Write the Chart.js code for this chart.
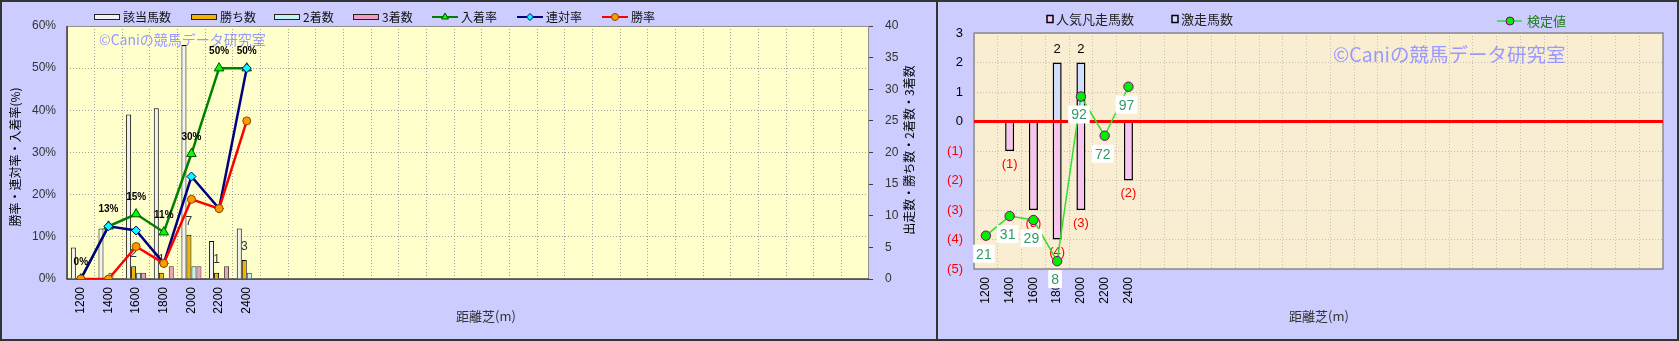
<!DOCTYPE html>
<html><head><meta charset="utf-8">
<script src="https://cdn.jsdelivr.net/npm/chart.js@4"></script>
<style>
html,body{margin:0;padding:0;background:#CCCCFF;}
#wrap{position:relative;width:1679px;height:341px;background:#CCCCFF;overflow:hidden;}
#c1{position:absolute;left:0;top:0;}
#c2{position:absolute;left:938px;top:0;}
.frame{position:absolute;box-sizing:border-box;border:2px solid #333;pointer-events:none;}
</style></head>
<body>
<div id="wrap">
<canvas id="c1" width="937" height="341"></canvas>
<canvas id="c2" width="741" height="341"></canvas>
<div class="frame" style="left:0;top:0;width:938px;height:341px;"></div>
<div class="frame" style="left:936px;top:0;width:743px;height:341px;"></div>
</div>
<script>
// ---------------- data ----------------
const distances = ['1200','1400','1600','1800','2000','2200','2400'];
const SLOTS = 29;
const xLabels = distances.concat(Array(SLOTS - distances.length).fill(''));

const runners      = [5, 8, 26, 27, 37, 6, 8];
const wins         = [0, 0, 2, 1, 7, 1, 3];
const seconds      = [0, 1, 1, 0, 2, 0, 1];
const thirds       = [0, 0, 1, 2, 2, 2, 0];
const placeRate    = [0, 12.5, 15.4, 11.1, 29.7, 50.0, 50.0];
const quinellaRate = [0, 12.5, 11.5, 3.7, 24.3, 16.7, 50.0];
const winRate      = [0, 0, 7.7, 3.7, 18.9, 16.7, 37.5];
const rateTicks    = [0, 10, 20, 30, 40, 50, 60];
const countTicks   = [0, 5, 10, 15, 20, 25, 30, 35, 40];

const popularFlops = [0, -1, -3, -4, -3, 0, -2];
const upsets       = [0, 0, 0, 2, 2, 0, 0];
const testValues   = [21, 31, 29, 8, 92, 72, 97];
const diffTicks    = [-5, -4, -3, -2, -1, 0, 1, 2, 3];
const testRange    = [4, 124.4];

const FONT = '"Liberation Sans","Noto Sans CJK JP",sans-serif';
const JFONT = '"Noto Sans CJK JP","Liberation Sans",sans-serif';
const WATERMARK = '©Caniの競馬データ研究室';

function marker(ctx, style, x, y, r, fill, stroke){
  ctx.save();
  ctx.fillStyle = fill; ctx.strokeStyle = stroke; ctx.lineWidth = 1;
  Chart.helpers.drawPoint(ctx, {pointStyle: style, radius: r, rotation: 0, borderWidth: 1}, x, y);
  ctx.restore();
}

// ---------------- left chart ----------------
const leftPlugin = {
  id: 'leftDeco',
  beforeDraw(chart){
    const {ctx, chartArea: a} = chart;
    ctx.save();
    ctx.fillStyle = '#CCCCFF'; ctx.fillRect(0, 0, chart.width, chart.height);
    ctx.fillStyle = '#FFFFCC'; ctx.fillRect(a.left, a.top, a.right - a.left, a.bottom - a.top);
    ctx.restore();
  },
  beforeDatasetsDraw(chart){
    const {ctx, chartArea: a} = chart;
    ctx.save();
    ctx.strokeStyle = '#909090'; ctx.lineWidth = 1;
    ctx.strokeRect(a.left + 0.5, a.top + 0.5, a.right - a.left - 1, a.bottom - a.top);
    ctx.strokeStyle = '#404040'; ctx.lineWidth = 1.5;
    ctx.beginPath(); ctx.moveTo(a.left, a.top); ctx.lineTo(a.left, a.bottom); ctx.lineTo(a.right, a.bottom); ctx.stroke();
    ctx.fillStyle = '#9999FF'; ctx.font = '14px ' + JFONT; ctx.textBaseline = 'middle'; ctx.textAlign = 'left';
    ctx.fillText(WATERMARK, 99, 40);
    ctx.restore();
  },
  beforeDatasetDraw(chart, args){
    if (args.index !== 4) return;
    const ctx = chart.ctx;
    const meta = chart.getDatasetMeta(1);
    ctx.save();
    ctx.fillStyle = '#333'; ctx.font = '12px ' + FONT; ctx.textAlign = 'center'; ctx.textBaseline = 'middle';
    wins.forEach((v, i) => { if (v > 0) { const el = meta.data[i]; ctx.fillText(String(v), el.x, el.y - 13); } });
    ctx.restore();
  },
  afterDatasetsDraw(chart){
    const ctx = chart.ctx;
    const meta = chart.getDatasetMeta(4);
    ctx.save();
    ctx.fillStyle = '#000'; ctx.font = 'bold 10px ' + FONT; ctx.textAlign = 'center'; ctx.textBaseline = 'middle';
    placeRate.forEach((v, i) => { const p = meta.data[i]; ctx.fillText(Math.round(v) + '%', p.x, p.y - 17); });
    ctx.restore();
  },
  afterDraw(chart){
    const ctx = chart.ctx;
    const xs = [94, 191, 274, 353, 432, 517, 602];
    const ly = 17;
    ctx.save();
    chart.data.datasets.forEach((ds, i) => {
      const x = xs[i];
      if (ds.type === 'line') {
        ctx.strokeStyle = ds.borderColor; ctx.lineWidth = 2;
        ctx.beginPath(); ctx.moveTo(x, ly); ctx.lineTo(x + 26, ly); ctx.stroke();
        marker(ctx, ds.pointStyle, x + 13, ly, ds.pointStyle === 'triangle' ? 4 : 3.5, ds.pointBackgroundColor, ds.pointBorderColor);
      } else {
        ctx.fillStyle = ds.backgroundColor; ctx.fillRect(x, ly - 3, 26, 6);
        ctx.strokeStyle = '#222'; ctx.lineWidth = 1; ctx.strokeRect(x + 0.5, ly - 2.5, 25, 5);
      }
      ctx.fillStyle = '#111'; ctx.font = '12px ' + JFONT; ctx.textAlign = 'left'; ctx.textBaseline = 'middle';
      ctx.fillText(ds.label, x + 29, ly);
    });
    // axis titles
    ctx.fillStyle = '#000';
    ctx.font = '12px ' + JFONT; ctx.textAlign = 'center'; ctx.textBaseline = 'middle';
    ctx.save(); ctx.translate(15, 157); ctx.rotate(-Math.PI / 2); ctx.fillText('勝率・連対率・入着率(%)', 0, 0); ctx.restore();
    ctx.font = '12px ' + JFONT;
    ctx.save(); ctx.translate(909, 150); ctx.rotate(-Math.PI / 2); ctx.fillText('出走数・勝ち数・2着数・3着数', 0, 0); ctx.restore();
    ctx.fillStyle = '#333'; ctx.font = '13px ' + JFONT;
    ctx.fillText('距離芝(m)', 486, 316);
    ctx.restore();
  }
};

new Chart(document.getElementById('c1'), {
  type: 'bar',
  data: {
    labels: xLabels,
    datasets: [
      {label: '該当馬数', data: runners, yAxisID: 'y2', backgroundColor: '#F2F2F2', borderColor: '#000', borderWidth: 1, order: 10},
      {label: '勝ち数', data: wins, yAxisID: 'y2', backgroundColor: '#F0B400', borderColor: '#000', borderWidth: 1, order: 10},
      {label: '2着数', data: seconds, yAxisID: 'y2', backgroundColor: '#C4F2F2', borderColor: '#333', borderWidth: 1, order: 10},
      {label: '3着数', data: thirds, yAxisID: 'y2', backgroundColor: '#F29CC4', borderColor: '#333', borderWidth: 1, order: 10},
      {type: 'line', label: '入着率', data: placeRate, yAxisID: 'y', borderColor: '#008000', borderWidth: 2.5, tension: 0,
       pointStyle: 'triangle', pointRadius: 5.5, pointBackgroundColor: '#00FF00', pointBorderColor: '#005000', pointBorderWidth: 1, order: 3},
      {type: 'line', label: '連対率', data: quinellaRate, yAxisID: 'y', borderColor: '#000080', borderWidth: 2.5, tension: 0,
       pointStyle: 'rectRot', pointRadius: 4.5, pointBackgroundColor: '#00FFFF', pointBorderColor: '#000080', pointBorderWidth: 1, order: 2},
      {type: 'line', label: '勝率', data: winRate, yAxisID: 'y', borderColor: '#FF0000', borderWidth: 2.5, tension: 0,
       pointStyle: 'circle', pointRadius: 4, pointBackgroundColor: '#FF9900', pointBorderColor: '#8A4A00', pointBorderWidth: 1, order: 1}
    ]
  },
  options: {
    responsive: false, animation: false,
    layout: {padding: {top: 26, left: 0, right: 0, bottom: 0}},
    datasets: {bar: {categoryPercentage: 0.723, barPercentage: 1.0}},
    plugins: {legend: {display: false}, tooltip: {enabled: false}},
    scales: {
      x: {
        grid: {offset: true, color: '#A0A0A0', drawTicks: false},
        border: {display: false, dash: [1, 2]},
        ticks: {autoSkip: false, maxRotation: 90, minRotation: 90, padding: 8, color: '#000', font: {size: 12, family: FONT}},
        afterFit(s){ s.height = 62; }
      },
      y: {
        position: 'left', min: rateTicks[0], max: rateTicks[rateTicks.length - 1],
        ticks: {stepSize: rateTicks[1] - rateTicks[0], callback: v => v + '%', padding: 11, color: '#333', font: {size: 12, family: FONT}},
        grid: {color: '#A0A0A0', drawTicks: false},
        border: {display: false, dash: [1, 2]},
        afterFit(s){ s.width = 67; }
      },
      y2: {
        position: 'right', min: countTicks[0], max: countTicks[countTicks.length - 1],
        ticks: {stepSize: countTicks[1] - countTicks[0], padding: 12, color: '#333', font: {size: 12, family: FONT}},
        grid: {drawOnChartArea: false, drawTicks: true, tickLength: 4, color: '#404040'},
        border: {display: false},
        afterFit(s){ s.width = 68; }
      }
    }
  },
  plugins: [leftPlugin]
});

// ---------------- right chart ----------------
const rightPlugin = {
  id: 'rightDeco',
  beforeDraw(chart){
    const {ctx, chartArea: a} = chart;
    ctx.save();
    ctx.fillStyle = '#CCCCFF'; ctx.fillRect(0, 0, chart.width, chart.height);
    ctx.fillStyle = '#FAEED2'; ctx.fillRect(a.left, a.top, a.right - a.left, a.bottom - a.top);
    ctx.restore();
  },
  beforeDatasetsDraw(chart){
    const {ctx, chartArea: a} = chart;
    ctx.save();
    ctx.strokeStyle = '#8A8A8A'; ctx.lineWidth = 1.5;
    ctx.strokeRect(a.left, a.top, a.right - a.left, a.bottom - a.top);
    ctx.fillStyle = '#9999FF'; ctx.font = '19.5px ' + JFONT; ctx.textBaseline = 'middle'; ctx.textAlign = 'left';
    ctx.fillText(WATERMARK, 395, 55);
    ctx.restore();
  },
  beforeDatasetDraw(chart, args){
    if (args.index !== 2) return;
    const {ctx, chartArea: a} = chart;
    const y0 = chart.scales.y.getPixelForValue(0);
    ctx.save();
    ctx.strokeStyle = '#FF0000'; ctx.lineWidth = 3;
    ctx.beginPath(); ctx.moveTo(a.left, y0); ctx.lineTo(a.right, y0); ctx.stroke();
    ctx.font = '13px ' + FONT; ctx.textAlign = 'center'; ctx.textBaseline = 'middle';
    const m0 = chart.getDatasetMeta(0), m1 = chart.getDatasetMeta(1);
    ctx.fillStyle = '#FF0000';
    popularFlops.forEach((v, i) => { if (v < 0) { const el = m0.data[i]; ctx.fillText('(' + (-v) + ')', el.x, el.y + 13); } });
    ctx.fillStyle = '#000';
    upsets.forEach((v, i) => { if (v > 0) { const el = m1.data[i]; ctx.fillText(String(v), el.x, el.y - 13); } });
    ctx.restore();
  },
  afterDatasetsDraw(chart){
    const ctx = chart.ctx;
    const meta = chart.getDatasetMeta(2);
    ctx.save();
    ctx.font = '14px ' + FONT; ctx.textAlign = 'center'; ctx.textBaseline = 'middle';
    testValues.forEach((v, i) => {
      const p = meta.data[i];
      const t = String(v); const w = ctx.measureText(t).width + 6;
      const cx = p.x - 2, cy = p.y + 18;
      ctx.fillStyle = '#FFFFFF'; ctx.fillRect(cx - w / 2, cy - 9, w, 18);
      ctx.fillStyle = '#339966'; ctx.fillText(t, cx, cy + 1);
    });
    ctx.restore();
  },
  afterDraw(chart){
    const ctx = chart.ctx;
    const ds = chart.data.datasets;
    ctx.save();
    const items = [[109, 19, 0], [234, 19, 1]];
    items.forEach(([x, y, i]) => {
      ctx.fillStyle = ds[i].backgroundColor; ctx.fillRect(x, y - 3.5, 6, 7);
      ctx.strokeStyle = '#000'; ctx.lineWidth = 1.5; ctx.strokeRect(x, y - 3.5, 6, 7);
      ctx.fillStyle = '#222'; ctx.font = '13px ' + JFONT; ctx.textAlign = 'left'; ctx.textBaseline = 'middle';
      ctx.fillText(ds[i].label, x + 9, y);
    });
    const lx = 559, ly = 21;
    ctx.strokeStyle = ds[2].borderColor; ctx.lineWidth = 1.5;
    ctx.beginPath(); ctx.moveTo(lx, ly); ctx.lineTo(lx + 25, ly); ctx.stroke();
    marker(ctx, 'circle', lx + 13, ly, 4, ds[2].pointBackgroundColor, ds[2].pointBorderColor);
    ctx.fillStyle = '#1E7B1E'; ctx.font = '13px ' + JFONT; ctx.textAlign = 'left'; ctx.textBaseline = 'middle';
    ctx.fillText(ds[2].label, lx + 30, ly);
    ctx.fillStyle = '#333'; ctx.textAlign = 'center';
    ctx.fillText('距離芝(m)', 381, 316);
    ctx.restore();
  }
};

new Chart(document.getElementById('c2'), {
  type: 'bar',
  data: {
    labels: xLabels,
    datasets: [
      {label: '人気凡走馬数', data: popularFlops, backgroundColor: '#F6C6F0', borderColor: '#000', borderWidth: 1.5, order: 1, yAxisID: 'y'},
      {label: '激走馬数', data: upsets, backgroundColor: '#D2DDFF', borderColor: '#000', borderWidth: 1.5, order: 1, yAxisID: 'y'},
      {type: 'line', label: '検定値', data: testValues, yAxisID: 'y3', borderColor: '#33DD33', borderWidth: 1.5, tension: 0,
       pointStyle: 'circle', pointRadius: 4.7, pointBackgroundColor: '#00EE00', pointBorderColor: '#800080', pointBorderWidth: 1, order: 0}
    ]
  },
  options: {
    responsive: false, animation: false,
    layout: {padding: {top: 33, left: 0, right: 16, bottom: 0}},
    datasets: {bar: {categoryPercentage: 0.38, barPercentage: 1.0}},
    plugins: {legend: {display: false}, tooltip: {enabled: false}},
    scales: {
      x: {
        stacked: true,
        grid: {offset: true, color: '#C4C0B4', drawTicks: false},
        border: {display: false, dash: [1, 2]},
        ticks: {autoSkip: false, maxRotation: 90, minRotation: 90, padding: 8, color: '#000', font: {size: 12, family: FONT}},
        afterFit(s){ s.height = 72; }
      },
      y: {
        stacked: true, position: 'left', min: diffTicks[0], max: diffTicks[diffTicks.length - 1],
        ticks: {stepSize: 1, padding: 11, font: {size: 13, family: FONT},
                color: c => (c.tick && c.tick.value < 0) ? '#FF0000' : '#000',
                callback: v => v < 0 ? '(' + (-v) + ')' : String(v)},
        grid: {color: '#C4C0B4', drawTicks: false},
        border: {display: false, dash: [1, 2]},
        afterFit(s){ s.width = 36; }
      },
      y3: {display: false, min: testRange[0], max: testRange[1]}
    }
  },
  plugins: [rightPlugin]
});
</script>
</body></html>
